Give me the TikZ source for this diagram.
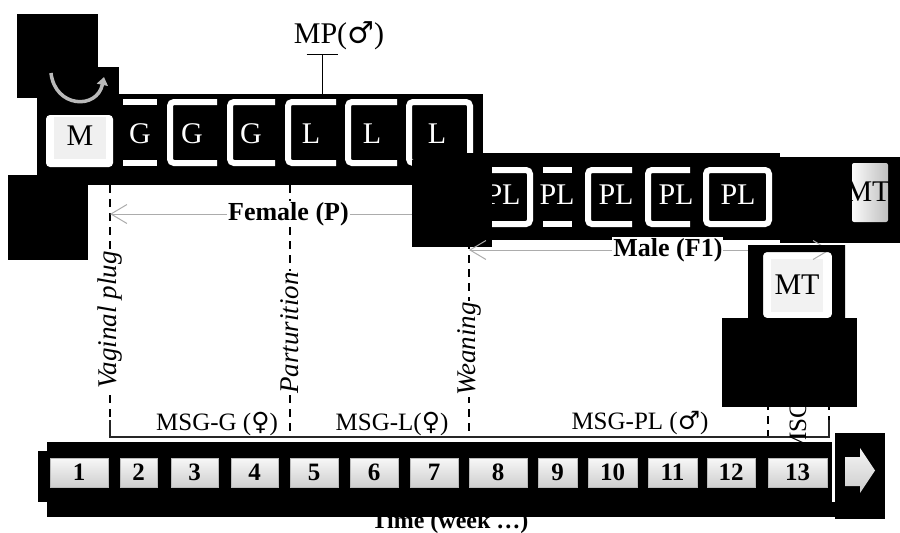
\documentclass[tikz,border=0pt]{standalone}
\usepackage{fontspec}
\setmainfont{Liberation Serif}
\newfontfamily\symfont{DejaVu Serif}
\usetikzlibrary{arrows.meta}
\newcommand\malesign{{\symfont ♂}}
\newcommand\femsign{{\symfont ♀}}

\tikzset{
  mask/.style={fill=black},
  frame/.style={draw=white,line width=6pt,rounded corners=4pt},
  bars/.style={draw=white,line width=6pt},
  boxlbl/.style={text=white,font=\fontsize{30}{33}\selectfont,inner sep=0pt},
  darklbl/.style={text=black,font=\fontsize{30}{33}\selectfont,inner sep=0pt},
  weekbox/.style={top color=gray!6,bottom color=gray!38,draw=gray!55,line width=0.5pt,
    minimum height=29pt,inner sep=0pt,font=\bfseries\fontsize{25}{27}\selectfont},
  span/.style={draw=gray!65,line width=1pt,
    {Straight Barb[length=16pt,width=19pt]}-{Straight Barb[length=16pt,width=19pt]}},
  spanlbl/.style={fill=white,text=black,inner sep=1pt,font=\bfseries\fontsize{26}{28}\selectfont},
  event/.style={draw=black,line width=1.3pt,dash pattern=on 8pt off 6pt},
  eventlbl/.style={fill=white,rotate=90,inner sep=1pt,font=\itshape\fontsize{27}{29}\selectfont},
  phaselbl/.style={font=\fontsize{25}{27}\selectfont,inner sep=0pt},
}

\begin{document}
\begin{tikzpicture}[x=1pt,y=-1pt]
\useasboundingbox (0,0) rectangle (900,533);

% ---- upper row: mating, gestation, lactation
\fill[mask] (17,14) rectangle (98,98);
\fill[mask] (98,67) rectangle (119,98);
\fill[mask] (37,94) rectangle (483,185);
\fill[mask] (8,175) rectangle (88,260);

% mating box and cycling arrow
\fill[white,rounded corners=4pt] (46,115) rectangle (113,167);
\fill[gray!12] (54,117) rectangle (106,159);
\node[darklbl] (m) at (80,136) {M};
\draw[gray!55,line width=3.5pt,-{Triangle[length=8pt,width=11pt]}]
  (51,73) .. controls (55,108) and (97,110) .. (104,77);

% gestation / lactation frames
\draw[bars] (123,102) -- (157,102) (123,163) -- (157,163);
\draw[frame] (217,102) -- (170,102) -- (170,163) -- (217,163);
\draw[frame] (275,102) -- (230,102) -- (230,163) -- (275,163);
\draw[frame] (336,102) -- (288,102) -- (288,163) -- (336,163);
\draw[frame] (397,102) -- (348,102) -- (348,163) -- (397,163);
\draw[frame] (409,102) rectangle (470,163);
\node[boxlbl] (g1) at (140,134) {G};
\node[boxlbl] (g2) at (192,134) {G};
\node[boxlbl] (g3) at (251,134) {G};
\node[boxlbl] (l1) at (311,134) {L};
\node[boxlbl] (l2) at (372,134) {L};
\node[boxlbl] (l3) at (437,134) {L};

% male partner marker
\node[darklbl] (mp) at (339,36) {MP(\malesign)};
\coordinate (mpfoot) at (322,54);
\coordinate (l1top) at (322,94);
\draw[line width=1pt,{Bar[width=31pt,line width=1pt]}-] (mpfoot) -- (l1top);

% events on the time axis
\coordinate (vptop) at (110,185); \coordinate (vpbot) at (110,437);
\coordinate (pttop) at (290,185); \coordinate (ptbot) at (290,437);
\coordinate (wntop) at (469,185); \coordinate (wnbot) at (469,437);
\draw[event] (vptop) -- node[pos=0.536,eventlbl] (vplbl) {Vaginal plug} (vpbot);
\draw[event] (pttop) -- node[pos=0.587,eventlbl] (ptlbl) {Parturition} (ptbot);
\draw[event] (wntop) -- node[pos=0.65,eventlbl] (wnlbl) {Weaning} (wnbot);

% female span
\coordinate (fa) at (110,214); \coordinate (fb) at (469,214);
\draw[span] (fa) -- node[spanlbl,pos=0.497] (female) {Female (P)} (fb);

% ---- second row: post-lactation and mating test
\fill[mask] (465,153) rectangle (780,240);
\fill[mask] (780,157) rectangle (900,243);
\draw[frame] (478,170) rectangle (530,224);
\draw[bars] (543,170) -- (572,170) (543,224) -- (572,224);
\draw[frame] (632,170) -- (588,170) -- (588,224) -- (632,224);
\draw[frame] (690,170) -- (648,170) -- (648,224) -- (690,224);
\draw[frame] (706,170) rectangle (769,224);
\node[boxlbl] (pl1) at (503,195) {PL};
\node[boxlbl] (pl2) at (557,195) {PL};
\node[boxlbl] (pl3) at (616,195) {PL};
\node[boxlbl] (pl4) at (676,195) {PL};
\node[boxlbl] (pl5) at (738,195) {PL};
\fill[mask] (412,160) rectangle (492,247);

\shade[left color=gray!4,right color=gray!50,rounded corners=2pt] (852,163) rectangle (888,222);
\node[darklbl] (mt1) at (868,192) {MT};

% mating test box with the male span
\fill[white,rounded corners=4pt] (763,252) rectangle (832,318);
\fill[gray!10] (771,259) rectangle (823,312);
\node[darklbl] (mt2) at (797,285) {MT};
\coordinate (ma) at (469,250); \coordinate (mb) at (830,250);
\draw[span] (ma) -- node[spanlbl,pos=0.551] (male) {Male (F1)} (mb);
\fill[mask,even odd rule] (748,245) rectangle (845,320)
  [rounded corners=4pt] (763,252) rectangle (832,318);

% stage brackets
\coordinate (mstop) at (768,318); \coordinate (msbot) at (768,437);
\coordinate (metop) at (829,318); \coordinate (mebot) at (829,420);
\draw[event] (mstop) -- (msbot);
\draw[event] (metop) -- (mebot);
\fill[mask] (722,318) rectangle (857,407);
\coordinate (br0) at (110,420); \coordinate (br1) at (829,420);
\draw[line width=1.2pt,black!85] (br0) -- (vpbot) -- (829,437) -- (br1);
\node[phaselbl] (msgg) at (217,424) {MSG-G (\femsign)};
\node[phaselbl] (msgl) at (392,424) {MSG-L(\femsign)};
\node[phaselbl] (msgpl) at (640,423) {MSG-PL (\malesign)};
\node[phaselbl,rotate=90] (msc) at (798,428) {MSC};

% ---- time axis
\node[font=\bfseries\fontsize{24}{26}\selectfont] (time) at (450,523) {Time (week …)};
\fill[mask] (47,442) rectangle (832,517);
\fill[mask] (38,451) rectangle (47,502);
\fill[mask] (832,502) rectangle (835,517);
\fill[mask] (835,433) rectangle (885,519);
\foreach \cx/\w/\n in {79/58/1, 138.5/37/2, 194.5/47/3, 254.5/47/4, 314/48/5, 374/48/6,
    434/48/7, 498/58/8, 557.5/39/9, 612.5/49/10, 672.5/49/11, 731/48/12, 797.5/59/13}
  \node[weekbox,minimum width=\w pt] (wk\n) at (\cx,472.5) {\n};
\shade[top color=gray!8,bottom color=gray!40]
  (845,457) -- (860,457) -- (860,448) -- (875,470.5) -- (860,493) -- (860,486) -- (845,486) -- cycle;
\end{tikzpicture}
\end{document}
